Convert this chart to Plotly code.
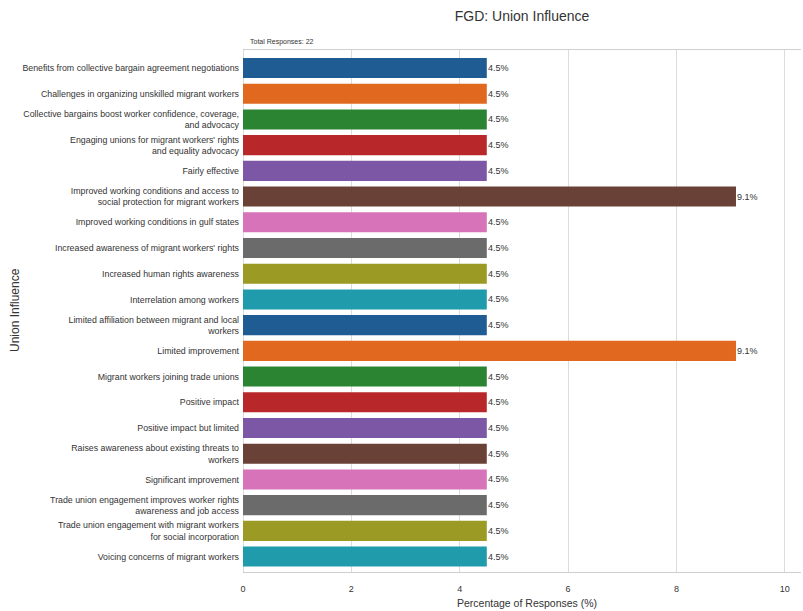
import plotly.graph_objects as go

# Focus-group responses on union influence (share of 22 responses)
categories = [
    "Benefits from collective bargain agreement negotiations",
    "Challenges in organizing unskilled migrant workers",
    "Collective bargains boost worker confidence, coverage,<br>and advocacy",
    "Engaging unions for migrant workers' rights<br>and equality advocacy",
    "Fairly effective",
    "Improved working conditions and access to<br>social protection for migrant workers",
    "Improved working conditions in gulf states",
    "Increased awareness of migrant workers' rights",
    "Increased human rights awareness",
    "Interrelation among workers",
    "Limited affiliation between migrant and local<br>workers",
    "Limited improvement",
    "Migrant workers joining trade unions",
    "Positive impact",
    "Positive impact but limited",
    "Raises awareness about existing threats to<br>workers",
    "Significant improvement",
    "Trade union engagement improves worker rights<br>awareness and job access",
    "Trade union engagement with migrant workers<br>for social incorporation",
    "Voicing concerns of migrant workers",
]
percentages = [4.5, 4.5, 4.5, 4.5, 4.5, 9.1, 4.5, 4.5, 4.5, 4.5,
               4.5, 9.1, 4.5, 4.5, 4.5, 4.5, 4.5, 4.5, 4.5, 4.5]
total_responses = 22
x_ticks = [0, 2, 4, 6, 8, 10]

palette = ["#1e5c93", "#e0691f", "#2a8431", "#b8282b", "#7c57a6",
           "#6a4137", "#d673b9", "#6b6b6b", "#9a9a25", "#1f9bab"]
colors = [palette[i % len(palette)] for i in range(len(categories))]

FONT = "Liberation Sans, Arial, sans-serif"

W, H = 803, 611
L, R, T, B = 243, 2, 50, 39
pw, ph = W - L - R, H - T - B

fig = go.Figure(
    go.Bar(
        x=percentages,
        y=list(range(len(categories))),
        orientation="h",
        width=0.78,
        marker=dict(color=colors, line=dict(width=0)),
        hoverinfo="skip",
    )
)

# value labels sitting right at the end of each bar
for i, v in enumerate(percentages):
    fig.add_annotation(
        x=v, y=i, xref="x", yref="y",
        text=f"{v:.1f}%", showarrow=False,
        xanchor="left", yanchor="middle", xshift=-1,
        font=dict(family=FONT, size=9, color="#333333"),
    )

fig.update_layout(
    width=W, height=H,
    margin=dict(l=L, r=R, t=T, b=B, autoexpand=False),
    paper_bgcolor="white", plot_bgcolor="white",
    showlegend=False,
    font=dict(family=FONT, color="#333333"),
    title=dict(text="FGD: Union Influence", x=0.5, xref="paper",
               y=1 - 16 / H, yanchor="middle",
               font=dict(family=FONT, size=14, color="#333333")),
)

fig.update_xaxes(
    range=[0, 10.3],
    tickvals=x_ticks,
    ticktext=[str(t) for t in x_ticks],
    tickfont=dict(family=FONT, size=9, color="#333333"),
    showgrid=True, gridcolor="#dcdcdc", gridwidth=1,
    zeroline=True, zerolinecolor="#dcdcdc", zerolinewidth=1,
    showline=True, linecolor="#cfcfcf", linewidth=1, mirror=True,
    ticks="", ticklabelstandoff=8, automargin=False, fixedrange=True,
)

fig.update_yaxes(
    range=[19.6, -0.7],
    tickvals=list(range(len(categories))),
    ticktext=categories,
    tickfont=dict(family=FONT, size=8.8, color="#333333"),
    showgrid=False, zeroline=False, showline=False,
    ticks="", ticklabelstandoff=3, automargin=False, fixedrange=True,
)

fig.add_annotation(
    text="Union Influence", textangle=-90,
    xref="paper", yref="paper",
    x=(15 - L) / pw, y=1 - (310 - T) / ph,
    xanchor="center", yanchor="middle", showarrow=False,
    font=dict(family=FONT, size=12, color="#333333"),
)
fig.add_annotation(
    text="Percentage of Responses (%)",
    xref="paper", yref="paper",
    x=(527 - L) / pw, y=-(603 - (T + ph)) / ph,
    xanchor="center", yanchor="middle", showarrow=False,
    font=dict(family=FONT, size=10.5, color="#333333"),
)
fig.add_annotation(
    text=f"Total Responses: {total_responses}",
    xref="paper", yref="paper",
    x=(248 - L) / pw, y=1 + (T - 42) / ph,
    xanchor="left", yanchor="middle", showarrow=False,
    font=dict(family=FONT, size=7, color="#333333"),
)

fig.write_html("out.html")
